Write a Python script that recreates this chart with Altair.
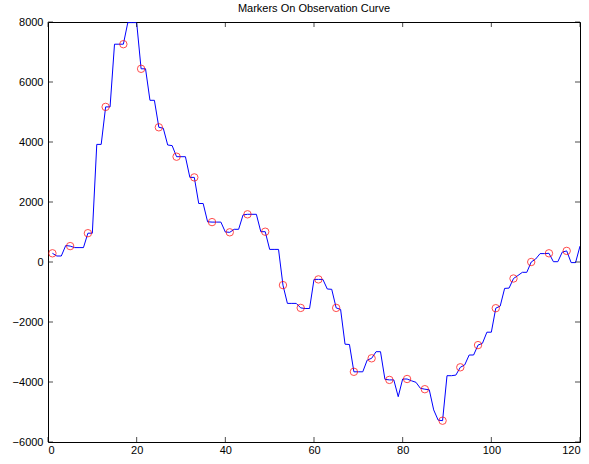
import altair as alt
import pandas as pd

# Observation curve values at x = 1..120
x_vals = list(range(1, 121))
y_vals = [
    290, 200, 200, 550, 530, 480, 480, 480, 960, 960,
    3920, 3920, 5170, 5170, 7260, 7260, 7260, 7980, 7980, 7980,
    6440, 6440, 5390, 5390, 4490, 4460, 3900, 3880, 3510, 3510,
    3510, 2820, 2820, 1950, 1950, 1340, 1330, 1330, 1330, 1000,
    990, 1090, 1090, 1570, 1590, 1590, 1590, 1010, 1010, 420,
    420, 420, -770, -1380, -1380, -1380, -1530, -1550, -1550, -580,
    -580, -580, -900, -910, -1530, -1580, -2740, -2750, -3660, -3660,
    -3660, -3270, -3210, -2990, -2990, -3910, -3930, -3930, -4490, -3900,
    -3900, -3960, -4010, -4210, -4240, -4260, -4930, -5270, -5290, -3790,
    -3790, -3770, -3510, -3430, -3100, -3100, -2770, -2710, -2340, -2340,
    -1540, -1470, -880, -870, -550, -450, -344, -344, 0, 100,
    280, 280, 290, 10, 10, 330, 370, -20, -20, 530,
]
marker_step = 4  # markers at x = 1, 5, 9, ...

x_ticks = [0, 20, 40, 60, 80, 100, 120]
y_ticks = [-6000, -4000, -2000, 0, 2000, 4000, 6000, 8000]
x_domain = [0, 120]
y_domain = [-6000, 8000]

df = pd.DataFrame({"x": x_vals, "y": y_vals})
df_xt = pd.DataFrame({"x": x_ticks})
df_yt = pd.DataFrame({"y": y_ticks})

xs = alt.Scale(domain=x_domain, nice=False, zero=False)
ys = alt.Scale(domain=y_domain, nice=False, zero=False)

x_axis = alt.Axis(values=x_ticks, grid=False, ticks=False, tickSize=0, labelPadding=2,
                  domain=False, title=None, format="d")
y_axis = alt.Axis(values=y_ticks, grid=False, ticks=False, tickSize=0, labelPadding=5,
                  domain=False, title=None, format="d")

X = alt.X("x:Q", scale=xs, axis=x_axis)
Y = alt.Y("y:Q", scale=ys, axis=y_axis)

line = alt.Chart(df).mark_line(color="#0000ff", strokeWidth=1, clip=True).encode(x=X, y=Y)

points = alt.Chart(df).transform_filter(
    f"(datum.x - 1) % {marker_step} == 0"
).mark_point(shape="circle", color="#ff0000", size=55, strokeWidth=1, filled=False).encode(x=X, y=Y)

tick_len = 5
bottom_ticks = alt.Chart(df_xt).mark_tick(orient="vertical", size=tick_len, thickness=1,
                                          color="black", yOffset=-tick_len / 2).encode(
    x=X, y=alt.YDatum(y_domain[0], scale=ys, axis=y_axis),
)
top_ticks = alt.Chart(df_xt).mark_tick(orient="vertical", size=tick_len, thickness=1,
                                       color="black", yOffset=tick_len / 2).encode(
    x=X, y=alt.YDatum(y_domain[1], scale=ys, axis=y_axis),
)
left_ticks = alt.Chart(df_yt).mark_tick(orient="horizontal", size=tick_len, thickness=1,
                                        color="black", xOffset=tick_len / 2).encode(
    y=Y, x=alt.XDatum(x_domain[0], scale=xs, axis=x_axis),
)
right_ticks = alt.Chart(df_yt).mark_tick(orient="horizontal", size=tick_len, thickness=1,
                                         color="black", xOffset=-tick_len / 2).encode(
    y=Y, x=alt.XDatum(x_domain[1], scale=xs, axis=x_axis),
)

chart = alt.layer(line, points, bottom_ticks, top_ticks, left_ticks, right_ticks).properties(
    width=532,
    height=420,
    title=alt.TitleParams("Markers On Observation Curve", fontSize=11, fontWeight="normal",
                          font="Liberation Sans", color="black", offset=2),
    autosize=alt.AutoSizeParams(type="none"),
    padding={"left": 48, "top": 22, "right": 9, "bottom": 22},
    background="white",
).configure_view(
    stroke="black", strokeWidth=1
).configure_axis(
    labelFont="Liberation Sans", labelFontSize=11, labelColor="black"
)

chart.save("out.html", embed_options={"renderer": "svg", "actions": False})
